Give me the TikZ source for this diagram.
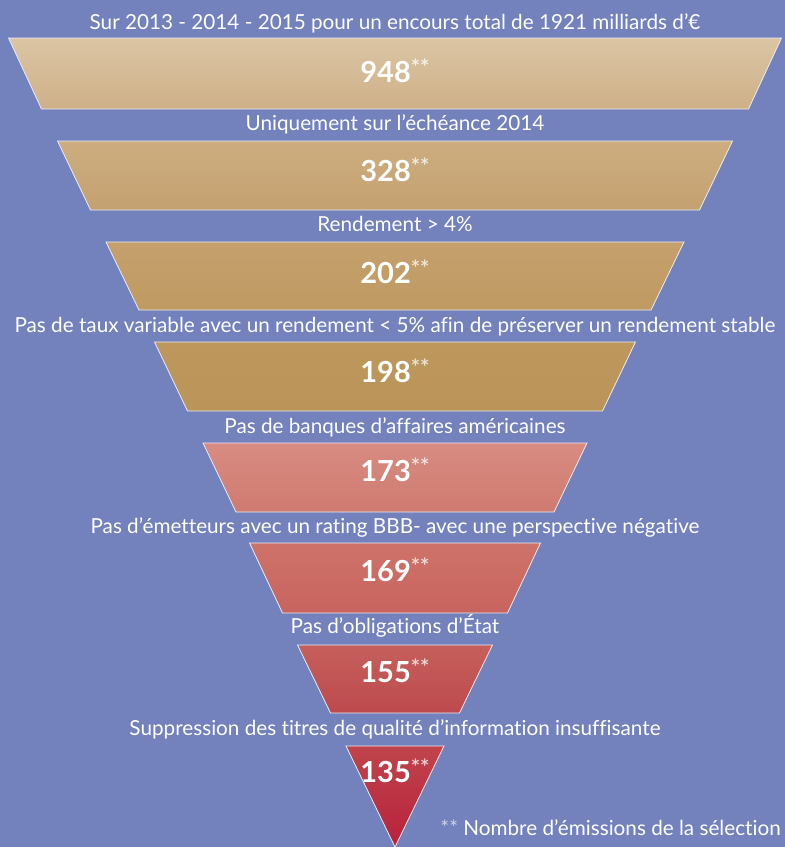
\documentclass[tikz,border=0pt]{standalone}
\usepackage{fontspec}
\setmainfont[Ligatures=NoCommon]{Lato}
\definecolor{bg}{HTML}{7381BD}
\definecolor{t1a}{HTML}{DBC5A4}\definecolor{t1b}{HTML}{CEB088}
\definecolor{t2a}{HTML}{CDAD80}\definecolor{t2b}{HTML}{C4A170}
\definecolor{t3a}{HTML}{C5A06D}\definecolor{t3b}{HTML}{C09A62}
\definecolor{t4a}{HTML}{BE975D}\definecolor{t4b}{HTML}{BB9459}
\definecolor{t5a}{HTML}{D88C82}\definecolor{t5b}{HTML}{D07A70}
\definecolor{t6a}{HTML}{CE736A}\definecolor{t6b}{HTML}{C8635E}
\definecolor{t7a}{HTML}{C65F5C}\definecolor{t7b}{HTML}{BD4A4D}
\definecolor{t8a}{HTML}{C0444B}\definecolor{t8b}{HTML}{B8213D}
\newcommand\mystars[1]{\raisebox{7pt}{\fontsize{22}{22}\selectfont\color{white!72!#1}**}}
\begin{document}
\begin{tikzpicture}[x=1pt,y=-1pt,
  lbl/.style={text=white,font=\fontsize{20.7}{20.7}\selectfont,anchor=base,inner sep=0pt},
  numtxt/.style={text=white,font=\fontsize{29}{29}\selectfont\bfseries,anchor=base,inner sep=0pt},
  funnel/.style={draw=white!85!bg,line width=0.8pt}]
\useasboundingbox (0,0) rectangle (785,847);
\fill[bg] (0,0) rectangle (785,847);
% trapezoids
\foreach \yt/\yb/\hw/\ca/\cb in {38/109/386.5/t1a/t1b,141/210/337.5/t2a/t2b,242/310/289/t3a/t3b,342/411/240.5/t4a/t4b,443/512/192/t5a/t5b,543/613/145.5/t6a/t6b,645/713/97.5/t7a/t7b}{
  \shade[funnel,top color=\ca,bottom color=\cb] (395-\hw,\yt) -- (395+\hw,\yt) -- (395+\hw-33,\yb) -- (395-\hw+33,\yb) -- cycle;
}
\shade[funnel,top color=t8a,bottom color=t8b] (346,746) -- (444,746) -- (395,847) -- cycle;
% labels
\node[lbl] (l1) at (395,29) {Sur 2013 - 2014 - 2015 pour un encours total de 1921 milliards d’€};
\node[lbl] (l2) at (395,130) {Uniquement sur l’échéance 2014};
\node[lbl] (l3) at (395,231) {Rendement > 4\%};
\node[lbl] (l4) at (395,332) {Pas de taux variable avec un rendement < 5\% afin de préserver un rendement stable};
\node[lbl] (l5) at (395,433) {Pas de banques d’affaires américaines};
\node[lbl] (l6) at (395,533) {Pas d’émetteurs avec un rating BBB- avec une perspective négative};
\node[lbl] (l7) at (395,633) {Pas d’obligations d’État};
\node[lbl] (l8) at (395,735) {Suppression des titres de qualité d’information insuffisante};
% numbers
\node[numtxt] (n1) at (395,82) {948\mystars{t1a}};
\node[numtxt] (n2) at (395,181.5) {328\mystars{t2a}};
\node[numtxt] (n3) at (395,283) {202\mystars{t3a}};
\node[numtxt] (n4) at (395,382) {198\mystars{t4a}};
\node[numtxt] (n5) at (395,481.5) {173\mystars{t5a}};
\node[numtxt] (n6) at (395,581.5) {169\mystars{t6a}};
\node[numtxt] (n7) at (395,682) {155\mystars{t7a}};
\node[numtxt] (n8) at (395,782) {135\mystars{t8a}};
% footnote
\node[lbl,anchor=base east] (fn) at (781,835) {{\color{white!65!bg}**} Nombre d’émissions de la sélection};
\end{tikzpicture}
\end{document}
